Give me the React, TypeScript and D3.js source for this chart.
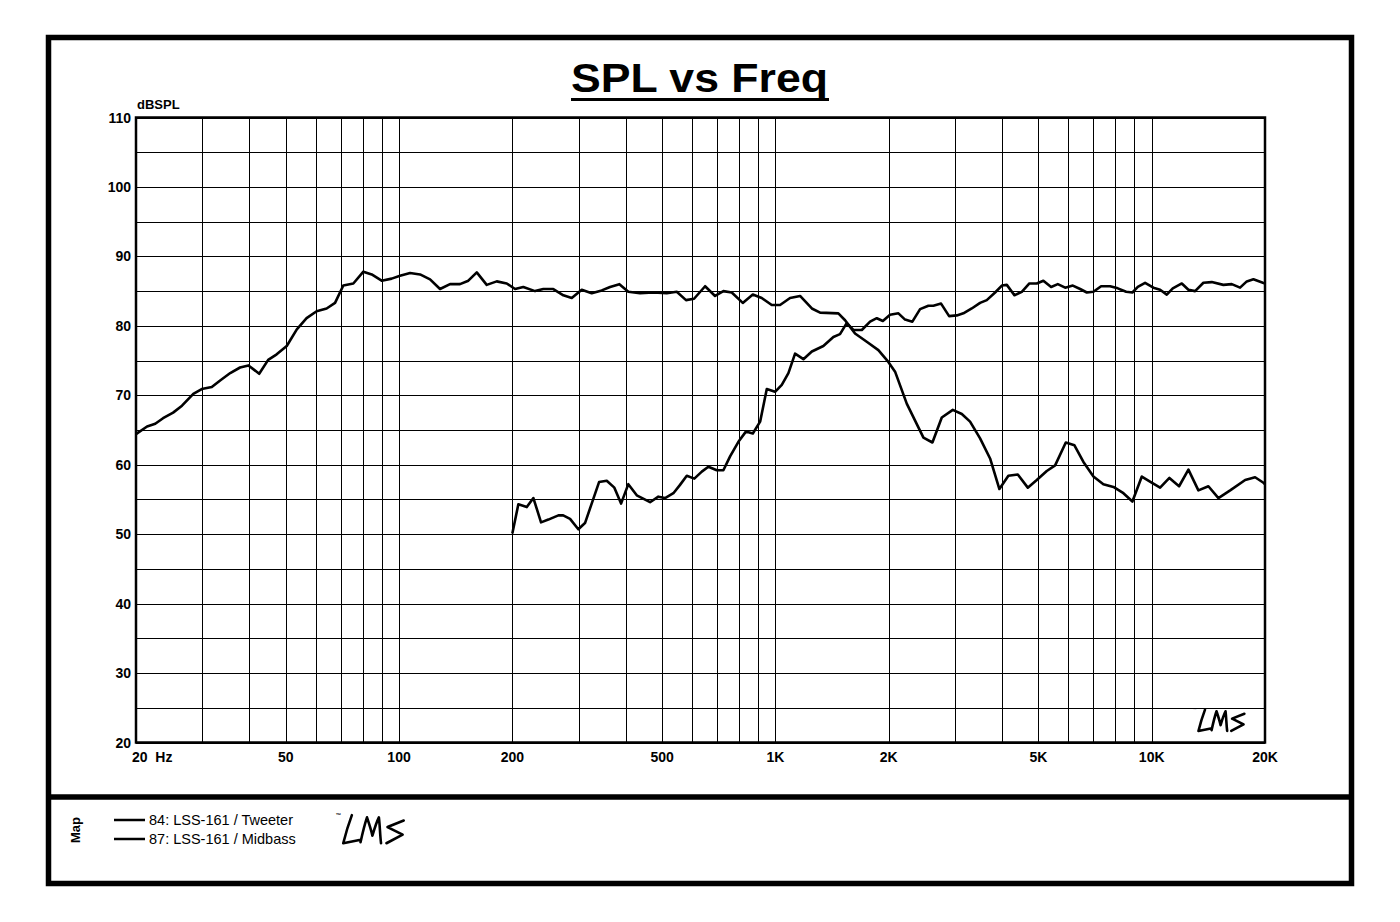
import React from "react";
import * as d3 from "d3";

const W = 1400;
const H = 922;

const yTicks = [20, 30, 40, 50, 60, 70, 80, 90, 100, 110];
const xTickValues = [20, 50, 100, 200, 500, 1000, 2000, 5000, 10000, 20000];
const xTickLabels = ["20  Hz", "50", "100", "200", "500", "1K", "2K", "5K", "10K", "20K"];

const midbassFreq = [20, 21.4, 22.5, 23.6, 25.1, 26.5, 28.4, 29.9, 31.8, 33.4, 35.6, 37.8, 39.8, 42.5, 44.9, 47.3, 50.3, 53.5, 56.8, 60.4, 64.2, 67.6, 71.1, 75.6, 80.4, 84.6, 89.9, 95.6, 100.6, 107, 113.7, 120.9, 128.5, 136.6, 145.2, 152.8, 160.9, 171, 181.8, 193.3, 203.4, 213.9, 229.8, 241.8, 257, 273.3, 287.7, 305.8, 325.1, 345.6, 363.7, 385, 406.7, 436.9, 474, 514.4, 547, 578.8, 608, 650.5, 691.4, 727.5, 765.8, 819.1, 871, 920, 978, 1029, 1094, 1163, 1250, 1315, 1470, 1532, 1628, 1749, 1878, 1996, 2080, 2234, 2474, 2614, 2768, 2961, 3129, 3291, 3499, 3720, 3938, 4160, 4407, 4685, 4950, 5262, 5538, 5911, 6233, 6585, 7000, 7439, 7911, 8410, 8886, 9412, 9945, 10527, 11143, 11823, 12518, 13306, 14146, 15040, 16160, 17713, 18826, 19810, 20000];
const midbassDb = [64.4, 65.5, 65.9, 66.7, 67.5, 68.5, 70.2, 70.9, 71.2, 72.1, 73.2, 74.0, 74.3, 73.1, 75.1, 75.9, 77.1, 79.5, 81.1, 82.1, 82.5, 83.3, 85.8, 86.1, 87.8, 87.4, 86.5, 86.8, 87.2, 87.6, 87.4, 86.7, 85.3, 86.0, 86.0, 86.5, 87.7, 85.9, 86.4, 86.1, 85.3, 85.6, 85.0, 85.3, 85.3, 84.4, 84.0, 85.2, 84.7, 85.1, 85.6, 86.0, 84.9, 84.7, 84.8, 84.7, 84.9, 83.7, 83.9, 85.7, 84.3, 85.0, 84.8, 83.3, 84.5, 84.0, 83.0, 83.0, 84.0, 84.3, 82.5, 81.9, 81.8, 80.8, 78.9, 77.7, 76.5, 74.8, 73.4, 68.8, 63.9, 63.2, 66.8, 67.9, 67.3, 66.2, 63.8, 60.9, 56.5, 58.4, 58.6, 56.7, 57.8, 59.1, 59.9, 63.2, 62.8, 60.4, 58.3, 57.2, 56.8, 55.9, 54.7, 58.3, 57.5, 56.7, 58.1, 56.9, 59.3, 56.3, 56.9, 55.2, 56.3, 57.8, 58.2, 57.4, 57.2];

const tweeterFreq = [200, 207.5, 218.5, 227.5, 238.4, 249.3, 265.1, 273, 284.7, 299.5, 312, 325, 340, 356.4, 373.4, 389, 406.7, 428.2, 464.5, 488.7, 509.2, 535.8, 558, 581.5, 609, 637.5, 663.7, 698.7, 727.5, 758, 797.5, 835.8, 871, 910.9, 948.8, 998, 1040, 1083, 1128, 1187, 1250, 1341, 1426, 1485, 1547, 1612, 1697, 1785, 1860, 1930, 2017, 2123, 2211, 2312, 2424, 2550, 2629, 2756, 2895, 3034, 3159, 3325, 3499, 3645, 3836, 3997, 4121, 4317, 4517, 4731, 4950, 5153, 5404, 5630, 5888, 6172, 6454, 6724, 7000, 7337, 7753, 8127, 8551, 8886, 9184, 9603, 10104, 10527, 10965, 11376, 12022, 12518, 13040, 13720, 14440, 15500, 16320, 17170, 17890, 18630, 19740, 20000];
const tweeterDb = [50.1, 54.3, 53.9, 55.2, 51.7, 52.1, 52.7, 52.7, 52.2, 50.7, 51.6, 54.4, 57.5, 57.7, 56.7, 54.4, 57.2, 55.6, 54.6, 55.4, 55.2, 55.9, 57.1, 58.4, 58.0, 59.0, 59.7, 59.2, 59.2, 61.2, 63.3, 64.8, 64.5, 66.2, 70.9, 70.5, 71.5, 73.2, 76.0, 75.2, 76.3, 77.1, 78.4, 78.8, 80.4, 79.4, 79.4, 80.6, 81.1, 80.7, 81.6, 81.8, 80.9, 80.6, 82.4, 82.9, 82.9, 83.2, 81.4, 81.5, 81.8, 82.5, 83.3, 83.7, 84.8, 85.8, 85.9, 84.4, 84.9, 86.1, 86.1, 86.5, 85.6, 86.0, 85.5, 85.8, 85.3, 84.8, 84.9, 85.7, 85.7, 85.4, 84.9, 84.8, 85.6, 86.2, 85.5, 85.2, 84.5, 85.4, 86.1, 85.2, 85.0, 86.2, 86.3, 85.9, 86.0, 85.5, 86.4, 86.7, 86.2, 86.1];

const legendLabels = ["84: LSS-161 / Tweeter", "87: LSS-161 / Midbass"];

// plot geometry
const PL = 136, PR = 1265, PT = 117.5, PB = 742.5;

function gridFreqs(): number[] {
  const out: number[] = [];
  for (let dec = 10; dec <= 10000; dec *= 10) {
    for (let m = 1; m <= 9; m++) {
      const f = dec * m;
      if (f > 20 && f < 20000) out.push(f);
    }
  }
  return out;
}

const LMS_PATH =
  "M11,2 C8,10 5,20 3,28 L18,25 M19,27 C21,18 23,10 25,4 C27,10 29,16 30,21 C32,14 34,8 36,4 C37,12 37,20 38,28 M59,7 L44,13 L58,20 L43,28";

function Logo({ x, y, s }: { x: number; y: number; s: number }) {
  return (
    <g transform={`translate(${x},${y}) scale(${s})`}>
      <path d={LMS_PATH} fill="none" stroke="#000" strokeWidth={2.6 / s} strokeLinejoin="round" strokeLinecap="round" />
      <text x={-4} y={4} fontSize={5} fontFamily="Liberation Sans, Arial" fontWeight="bold">™</text>
    </g>
  );
}

export default function App() {
  const x = d3.scaleLog().domain([20, 20000]).range([PL, PR]);
  const y = d3.scaleLinear().domain([20, 110]).range([PB, PT]);
  const line = d3
    .line<[number, number]>()
    .x((d) => x(d[0]))
    .y((d) => y(d[1]));
  const mid = midbassFreq.map((f, i) => [f, midbassDb[i]] as [number, number]);
  const tw = tweeterFreq.map((f, i) => [f, tweeterDb[i]] as [number, number]);
  const hLines = d3.range(20, 111, 5);
  const vLines = gridFreqs();
  const font = "Liberation Sans, Arial, Helvetica, sans-serif";

  return (
    <svg width={W} height={H} style={{ position: "absolute", left: 0, top: 0, background: "#fff" }}>
      <rect x={0} y={0} width={W} height={H} fill="#fff" />
      {/* outer frame */}
      <rect x={48.5} y={37.5} width={1303} height={846} fill="none" stroke="#000" strokeWidth={5.5} />
      <line x1={48} x2={1352} y1={797} y2={797} stroke="#000" strokeWidth={5.5} />

      {/* title */}
      <text x={571} y={92} textLength={257} lengthAdjust="spacingAndGlyphs" fontFamily={font} fontWeight="bold" fontSize={41}>SPL vs Freq</text>
      <line x1={571} x2={829} y1={99.5} y2={99.5} stroke="#000" strokeWidth={3} />

      {/* grid */}
      <g stroke="#000" strokeWidth={1}>
        {hLines.map((v) => (
          <line key={"h" + v} x1={PL} x2={PR} y1={Math.round(y(v)) + 0.5} y2={Math.round(y(v)) + 0.5} />
        ))}
        {vLines.map((f) => {
          const xx = Math.round(x(f)) + 0.5;
          return <line key={"v" + f} x1={xx} x2={xx} y1={PT} y2={PB} />;
        })}
      </g>
      <rect x={PL} y={PT} width={PR - PL} height={PB - PT} fill="none" stroke="#000" strokeWidth={2.5} />

      {/* y labels */}
      <text x={PL + 1} y={PT - 9} fontFamily={font} fontWeight="bold" fontSize={13}>dBSPL</text>
      {yTicks.map((v) => (
        <text key={"yt" + v} x={131} y={y(v) + 5} textAnchor="end" fontFamily={font} fontWeight="bold" fontSize={14}>{v}</text>
      ))}
      {/* x labels */}
      {xTickValues.map((f, i) => (
        <text
          key={"xt" + f}
          x={i === 0 ? 132 : x(f)}
          y={762}
          textAnchor={i === 0 ? "start" : "middle"}
          fontFamily={font}
          fontWeight="bold"
          fontSize={14}
          style={{ whiteSpace: "pre" }}
        >
          {xTickLabels[i]}
        </text>
      ))}

      {/* curves */}
      <path d={line(mid) || ""} fill="none" stroke="#000" strokeWidth={2.6} strokeLinejoin="round" />
      <path d={line(tw) || ""} fill="none" stroke="#000" strokeWidth={2.6} strokeLinejoin="round" />

      {/* logos */}
      <Logo x={1196} y={708} s={0.82} />
      <Logo x={340} y={813} s={1.08} />

      {/* legend */}
      <text transform="translate(80,830) rotate(-90)" textAnchor="middle" fontFamily={font} fontWeight="bold" fontSize={13}>Map</text>
      {legendLabels.map((l, i) => (
        <g key={l}>
          <line x1={114} x2={145} y1={820 + i * 19} y2={820 + i * 19} stroke="#000" strokeWidth={2.5} />
          <text x={149} y={825 + i * 19} fontFamily={font} fontSize={14.5}>{l}</text>
        </g>
      ))}
    </svg>
  );
}
